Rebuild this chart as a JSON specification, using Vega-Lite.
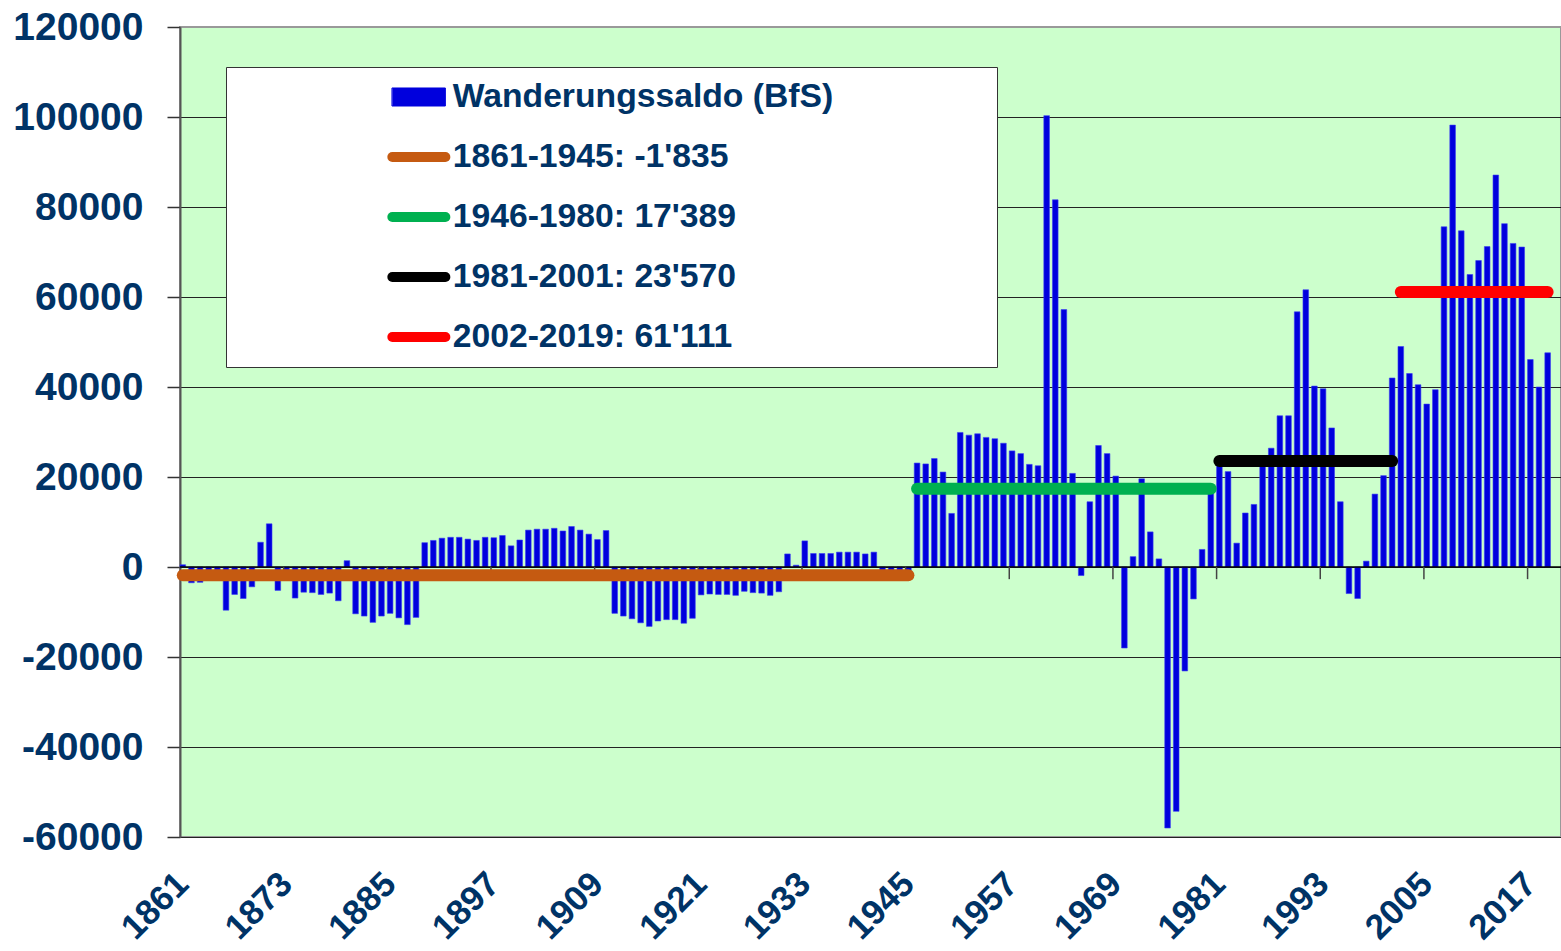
{
  "$schema": "https://vega.github.io/schema/vega-lite/v6.json",
  "width": 1381,
  "height": 810,
  "autosize": {"type": "none"},
  "padding": {"left": 180, "top": 27, "right": 0, "bottom": 114},
  "background": "white",
  "config": {
    "view": {"fill": "#CCFFCC", "stroke": "#999999", "strokeWidth": 2},
    "font": "Liberation Sans"
  },
  "datasets": {
    "saldo": [
      {"year": 1861, "value": 500}, {"year": 1862, "value": -3500}, {"year": 1863, "value": -3400}, {"year": 1864, "value": -3000},
      {"year": 1865, "value": -2500}, {"year": 1866, "value": -9600}, {"year": 1867, "value": -6100}, {"year": 1868, "value": -7000},
      {"year": 1869, "value": -4400}, {"year": 1870, "value": 5500}, {"year": 1871, "value": 9600}, {"year": 1872, "value": -5200},
      {"year": 1873, "value": -3000}, {"year": 1874, "value": -6900}, {"year": 1875, "value": -5600}, {"year": 1876, "value": -5700},
      {"year": 1877, "value": -6100}, {"year": 1878, "value": -5800}, {"year": 1879, "value": -7500}, {"year": 1880, "value": 1400},
      {"year": 1881, "value": -10400}, {"year": 1882, "value": -10900}, {"year": 1883, "value": -12300}, {"year": 1884, "value": -10900},
      {"year": 1885, "value": -10300}, {"year": 1886, "value": -11300}, {"year": 1887, "value": -12800}, {"year": 1888, "value": -11200},
      {"year": 1889, "value": 5400}, {"year": 1890, "value": 5900}, {"year": 1891, "value": 6400}, {"year": 1892, "value": 6600},
      {"year": 1893, "value": 6600}, {"year": 1894, "value": 6200}, {"year": 1895, "value": 5900}, {"year": 1896, "value": 6600},
      {"year": 1897, "value": 6500}, {"year": 1898, "value": 7000}, {"year": 1899, "value": 4700}, {"year": 1900, "value": 6000},
      {"year": 1901, "value": 8200}, {"year": 1902, "value": 8400}, {"year": 1903, "value": 8400}, {"year": 1904, "value": 8600},
      {"year": 1905, "value": 8000}, {"year": 1906, "value": 9000}, {"year": 1907, "value": 8200}, {"year": 1908, "value": 7300},
      {"year": 1909, "value": 6100}, {"year": 1910, "value": 8100}, {"year": 1911, "value": -10300}, {"year": 1912, "value": -10900},
      {"year": 1913, "value": -11500}, {"year": 1914, "value": -12400}, {"year": 1915, "value": -13200}, {"year": 1916, "value": -12000},
      {"year": 1917, "value": -11700}, {"year": 1918, "value": -11700}, {"year": 1919, "value": -12500}, {"year": 1920, "value": -11400},
      {"year": 1921, "value": -6200}, {"year": 1922, "value": -6000}, {"year": 1923, "value": -6100}, {"year": 1924, "value": -6100},
      {"year": 1925, "value": -6300}, {"year": 1926, "value": -5400}, {"year": 1927, "value": -5700}, {"year": 1928, "value": -5800},
      {"year": 1929, "value": -6300}, {"year": 1930, "value": -5500}, {"year": 1931, "value": 2900}, {"year": 1932, "value": 400},
      {"year": 1933, "value": 5800}, {"year": 1934, "value": 3000}, {"year": 1935, "value": 3000}, {"year": 1936, "value": 3000},
      {"year": 1937, "value": 3300}, {"year": 1938, "value": 3300}, {"year": 1939, "value": 3300}, {"year": 1940, "value": 2900},
      {"year": 1941, "value": 3300}, {"year": 1942, "value": -2000}, {"year": 1943, "value": -2500}, {"year": 1944, "value": -2000},
      {"year": 1945, "value": -2500}, {"year": 1946, "value": 23100}, {"year": 1947, "value": 22900}, {"year": 1948, "value": 24100},
      {"year": 1949, "value": 21100}, {"year": 1950, "value": 11900}, {"year": 1951, "value": 29900}, {"year": 1952, "value": 29300},
      {"year": 1953, "value": 29600}, {"year": 1954, "value": 28800}, {"year": 1955, "value": 28500}, {"year": 1956, "value": 27500},
      {"year": 1957, "value": 25800}, {"year": 1958, "value": 25200}, {"year": 1959, "value": 22800}, {"year": 1960, "value": 22500},
      {"year": 1961, "value": 100300}, {"year": 1962, "value": 81600}, {"year": 1963, "value": 57200}, {"year": 1964, "value": 20800},
      {"year": 1965, "value": -1900}, {"year": 1966, "value": 14500}, {"year": 1967, "value": 27000}, {"year": 1968, "value": 25200},
      {"year": 1969, "value": 20200}, {"year": 1970, "value": -18000}, {"year": 1971, "value": 2300}, {"year": 1972, "value": 19600},
      {"year": 1973, "value": 7800}, {"year": 1974, "value": 1800}, {"year": 1975, "value": -58000}, {"year": 1976, "value": -54300},
      {"year": 1977, "value": -23100}, {"year": 1978, "value": -7100}, {"year": 1979, "value": 3900}, {"year": 1980, "value": 16500},
      {"year": 1981, "value": 23000}, {"year": 1982, "value": 21200}, {"year": 1983, "value": 5300}, {"year": 1984, "value": 12000},
      {"year": 1985, "value": 13900}, {"year": 1986, "value": 22700}, {"year": 1987, "value": 26400}, {"year": 1988, "value": 33600},
      {"year": 1989, "value": 33600}, {"year": 1990, "value": 56700}, {"year": 1991, "value": 61600}, {"year": 1992, "value": 40200},
      {"year": 1993, "value": 39600}, {"year": 1994, "value": 30900}, {"year": 1995, "value": 14500}, {"year": 1996, "value": -5900},
      {"year": 1997, "value": -7000}, {"year": 1998, "value": 1300}, {"year": 1999, "value": 16200}, {"year": 2000, "value": 20300},
      {"year": 2001, "value": 42000}, {"year": 2002, "value": 49000}, {"year": 2003, "value": 43000}, {"year": 2004, "value": 40500},
      {"year": 2005, "value": 36200}, {"year": 2006, "value": 39400}, {"year": 2007, "value": 75600}, {"year": 2008, "value": 98200},
      {"year": 2009, "value": 74700}, {"year": 2010, "value": 65000}, {"year": 2011, "value": 68100}, {"year": 2012, "value": 71200},
      {"year": 2013, "value": 87100}, {"year": 2014, "value": 76300}, {"year": 2015, "value": 71900}, {"year": 2016, "value": 71100},
      {"year": 2017, "value": 46100}, {"year": 2018, "value": 40000}, {"year": 2019, "value": 47600}
    ],
    "means": [
      {"start": 1861, "end": 1945, "mean": -1835, "label": "1861-1945: -1'835"},
      {"start": 1946, "end": 1980, "mean": 17389, "label": "1946-1980: 17'389"},
      {"start": 1981, "end": 2001, "mean": 23570, "label": "1981-2001: 23'570"},
      {"start": 2002, "end": 2019, "mean": 61111, "label": "2002-2019: 61'111"}
    ],
    "ticks": [
      {"tick": 1873}, {"tick": 1885}, {"tick": 1897}, {"tick": 1909}, {"tick": 1921}, {"tick": 1933}, {"tick": 1945},
      {"tick": 1957}, {"tick": 1969}, {"tick": 1981}, {"tick": 1993}, {"tick": 2005}, {"tick": 2017}
    ]
  },
  "layer": [
    {
      "data": {"name": "saldo"},
      "mark": {"type": "bar", "stroke": "#3A3AF5", "strokeWidth": 0.6},
      "encoding": {
        "x": {
          "field": "year",
          "type": "ordinal",
          "scale": {"paddingInner": 0.35, "paddingOuter": 0.61, "align": 0},
          "axis": {
            "values": [1861, 1873, 1885, 1897, 1909, 1921, 1933, 1945, 1957, 1969, 1981, 1993, 2005, 2017],
            "title": null,
            "labelAngle": -45,
            "labelAlign": "right",
            "labelBaseline": "middle",
            "labelFont": "Liberation Sans",
            "labelFontWeight": "bold",
            "labelFontSize": 35,
            "labelColor": "#003366",
            "labelPadding": 41,
            "ticks": false,
            "domain": false,
            "grid": false
          }
        },
        "y": {
          "field": "value",
          "type": "quantitative",
          "scale": {"domain": [-60000, 120000], "nice": false},
          "axis": {
            "values": [-60000, -40000, -20000, 0, 20000, 40000, 60000, 80000, 100000, 120000],
            "title": null,
            "labelExpr": "'' + datum.value",
            "labelFont": "Liberation Sans",
            "labelFontWeight": "bold",
            "labelFontSize": 39,
            "labelColor": "#003366",
            "labelPadding": 24,
            "tickSize": 13,
            "tickColor": "#333333",
            "tickWidth": 1.5,
            "domainColor": "#555555",
            "domainWidth": 2,
            "grid": true,
            "gridColor": {"condition": {"test": "datum.value === 120000", "value": "#999999"}, "value": "#222222"},
            "gridWidth": 1.2
          }
        },
        "color": {
          "datum": "Wanderungssaldo (BfS)",
          "type": "nominal",
          "title": ".",
          "scale": {
            "domain": ["Wanderungssaldo (BfS)", "1861-1945: -1'835", "1946-1980: 17'389", "1981-2001: 23'570", "2002-2019: 61'111"],
            "range": ["#0000DD", "#C55A11", "#00B050", "#000000", "#FF0000"]
          },
          "legend": {
            "orient": "none",
            "legendX": 46,
            "legendY": 40,
            "title": ".",
            "titleOrient": "right",
            "titleColor": "#FFFFFF",
            "titleFontSize": 10,
            "titlePadding": 151,
            "fillColor": "#FFFFFF",
            "strokeColor": "#333333",
            "padding": 10,
            "clipHeight": 40,
            "symbolSize": 2809,
            "symbolOffset": 166,
            "labelOffset": 17,
            "rowPadding": 20,
            "labelFont": "Liberation Sans",
            "labelFontWeight": "bold",
            "labelFontSize": 33.7,
            "labelColor": "#003366",
            "labelLimit": 0,
            "encoding": {
              "symbols": {
                "shape": {"value": {"expr": "datum.value === 'Wanderungssaldo (BfS)' ? 'M-1,-0.34H1V0.34H-1Z' : 'stroke'"}},
                "fill": {"value": {"expr": "datum.value === 'Wanderungssaldo (BfS)' ? '#0000DD' : 'transparent'"}},
                "stroke": {"value": {"expr": "datum.value === 'Wanderungssaldo (BfS)' ? '#4040FF' : scale('color', datum.value)"}},
                "strokeWidth": {"value": {"expr": "datum.value === 'Wanderungssaldo (BfS)' ? 1 : 10"}},
                "strokeCap": {"value": "round"},
                "opacity": {"value": 1}
              }
            }
          }
        }
      }
    },
    {
      "data": {"values": [{}]},
      "mark": {"type": "rule", "color": "#000000", "strokeWidth": 1.5},
      "encoding": {"y": {"datum": 0, "type": "quantitative"}}
    },
    {
      "data": {"name": "ticks"},
      "mark": {"type": "rule", "color": "#444444", "strokeWidth": 1.5},
      "encoding": {
        "x": {"field": "tick", "type": "ordinal", "bandPosition": 0},
        "y": {"datum": 0, "type": "quantitative"},
        "y2": {"datum": -2700}
      }
    },
    {
      "data": {"name": "means"},
      "mark": {"type": "rule", "strokeWidth": 12, "strokeCap": "round"},
      "encoding": {
        "x": {"field": "start", "type": "ordinal"},
        "x2": {"field": "end"},
        "y": {"field": "mean", "type": "quantitative"},
        "color": {"field": "label", "type": "nominal", "title": "."}
      }
    }
  ]
}
